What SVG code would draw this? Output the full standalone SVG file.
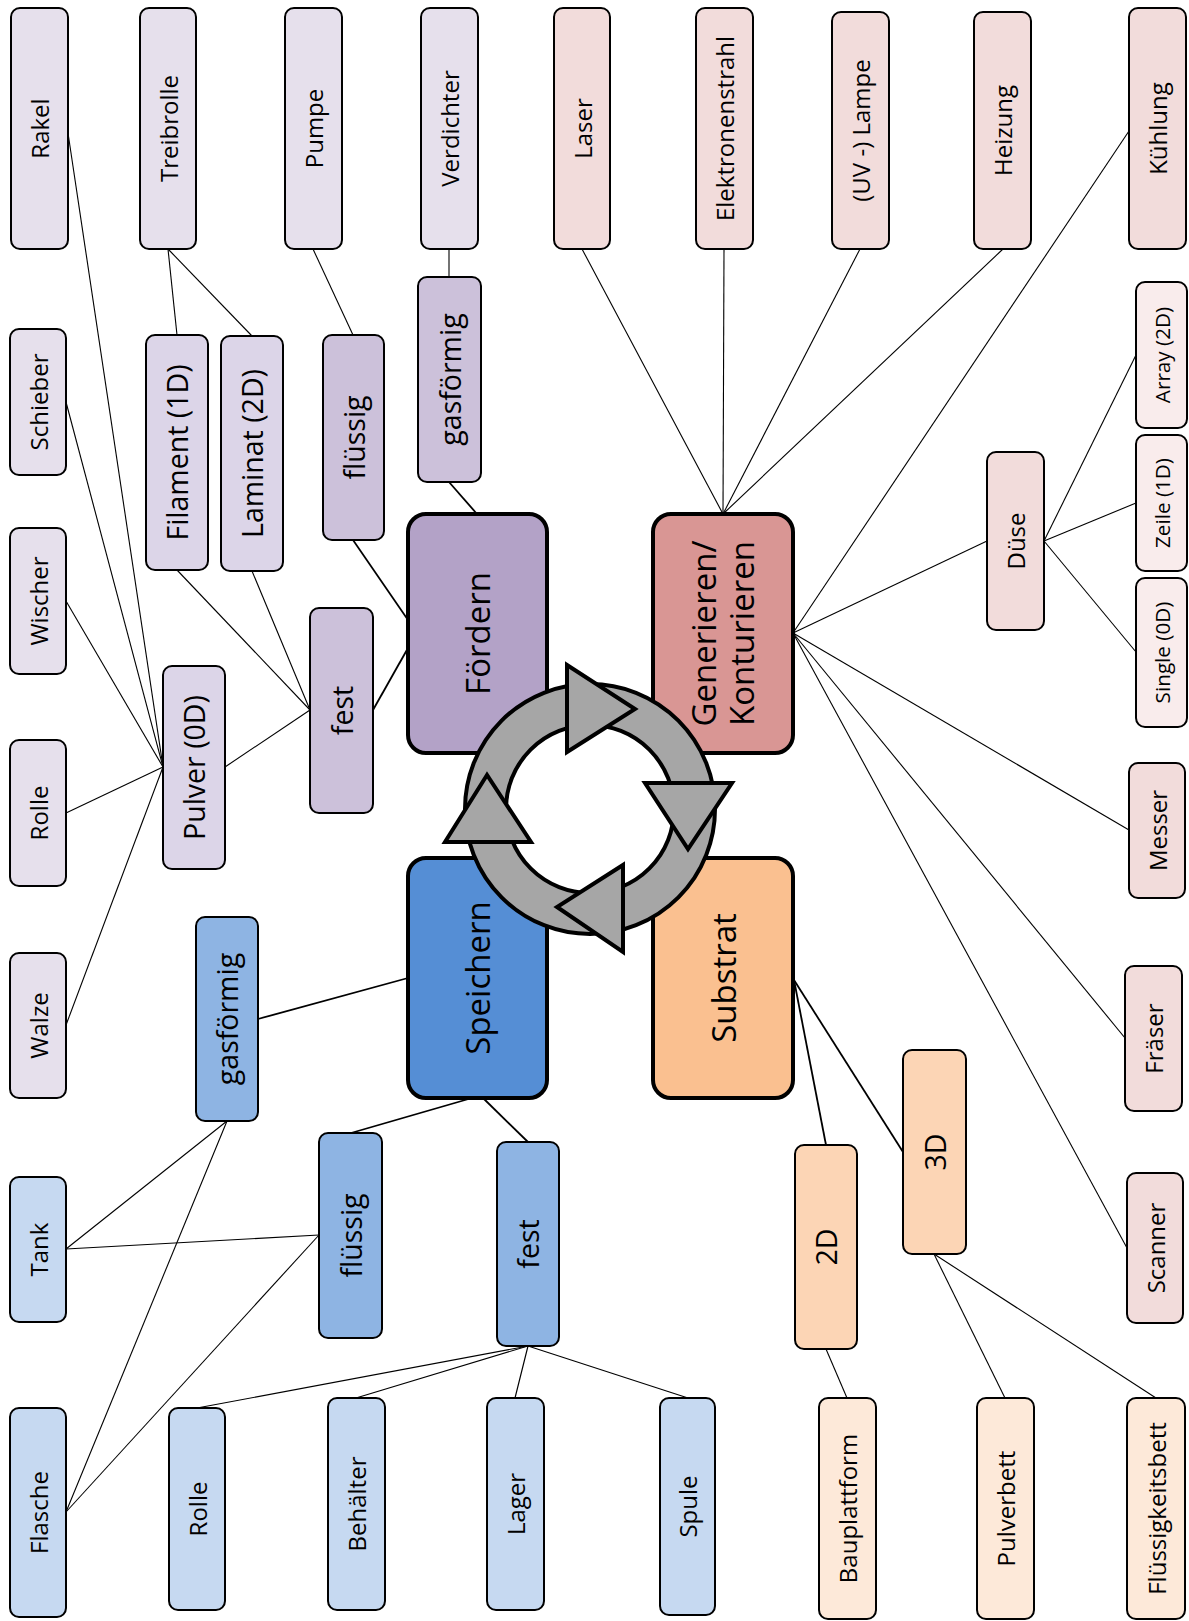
<svg xmlns="http://www.w3.org/2000/svg" width="1189" height="1621" viewBox="0 0 1189 1621">
<style>
rect{stroke:#000;stroke-width:2}
.c{stroke-width:4}
text{font-family:"Open Sans","DejaVu Sans",sans-serif;fill:#000;text-anchor:middle;dominant-baseline:central}
.s0{font-size:20.7px}.s1{font-size:24px}.s2{font-size:28.5px}.s3{font-size:33px}
.pL{fill:#e6e0ec}.pM{fill:#dcd5e8}.pD{fill:#ccc1da}.pC{fill:#b3a2c7}
.rL{fill:#f2dcdb}.rX{fill:#f9ecec}.rC{fill:#d99694}
.bL{fill:#c6d9f1}.bM{fill:#8eb4e3}.bC{fill:#558ed5}
.oL{fill:#fde9d9}.oM{fill:#fcd5b5}.oC{fill:#fac090}
#connectors line{stroke:#000;stroke-width:1.1}
#connectors line.k{stroke-width:1.8}
.cyc{fill:#a6a6a6;stroke:#000;stroke-width:4}
.hole{fill:#fff;stroke:#000;stroke-width:4}
</style>
<rect x="0" y="0" width="1189" height="1621" fill="#fff" style="stroke:none"/>
<g id="connectors">
<line x1="68" y1="133" x2="163" y2="767"/>
<line x1="66" y1="402" x2="163" y2="767"/>
<line x1="66" y1="601" x2="163" y2="767"/>
<line x1="66" y1="813" x2="163" y2="767"/>
<line x1="66" y1="1025" x2="163" y2="767"/>
<line x1="225" y1="767" x2="310" y2="710"/>
<line x1="177" y1="570" x2="310" y2="710"/>
<line x1="252" y1="571" x2="310" y2="710"/>
<line x1="168" y1="249" x2="177" y2="335"/>
<line x1="168" y1="249" x2="252" y2="336"/>
<line x1="313" y1="249" x2="353" y2="335"/>
<line x1="449" y1="249" x2="449" y2="277"/>
<line class="k" x1="373" y1="710" x2="408" y2="648"/>
<line class="k" x1="353" y1="540" x2="408" y2="620"/>
<line class="k" x1="449" y1="482" x2="477" y2="514"/>
<line x1="582" y1="249" x2="723" y2="514"/>
<line x1="724" y1="249" x2="723" y2="514"/>
<line x1="860" y1="249" x2="723" y2="514"/>
<line x1="1003" y1="249" x2="723" y2="514"/>
<line x1="1129" y1="131" x2="793" y2="633"/>
<line x1="987" y1="541" x2="793" y2="633"/>
<line x1="1129" y1="830" x2="793" y2="633"/>
<line x1="1125" y1="1038" x2="793" y2="633"/>
<line x1="1127" y1="1248" x2="793" y2="633"/>
<line x1="1044" y1="541" x2="1136" y2="355"/>
<line x1="1044" y1="541" x2="1136" y2="503"/>
<line x1="1044" y1="541" x2="1136" y2="652"/>
<line class="k" x1="258" y1="1019" x2="408" y2="978"/>
<line class="k" x1="472" y1="1098" x2="351" y2="1133"/>
<line class="k" x1="483" y1="1098" x2="528" y2="1142"/>
<line x1="227" y1="1121" x2="66" y2="1249"/>
<line x1="227" y1="1121" x2="66" y2="1512"/>
<line x1="319" y1="1235" x2="66" y2="1249"/>
<line x1="319" y1="1235" x2="66" y2="1512"/>
<line x1="528" y1="1346" x2="197" y2="1408"/>
<line x1="528" y1="1346" x2="356" y2="1398"/>
<line x1="528" y1="1346" x2="515" y2="1398"/>
<line x1="528" y1="1346" x2="688" y2="1398"/>
<line class="k" x1="794" y1="980" x2="826" y2="1145"/>
<line class="k" x1="794" y1="980" x2="903" y2="1152"/>
<line x1="826" y1="1349" x2="847" y2="1398"/>
<line x1="934" y1="1254" x2="1005" y2="1398"/>
<line x1="934" y1="1254" x2="1156" y2="1398"/>
</g>
<g id="rakel"><rect class="pL" x="11" y="8" width="57" height="241" rx="9"/><text class="s1" transform="translate(39.5,128.5) rotate(-90)">Rakel</text></g>
<g id="treibrolle"><rect class="pL" x="140" y="8" width="56" height="241" rx="9"/><text class="s1" transform="translate(168,128.5) rotate(-90)">Treibrolle</text></g>
<g id="pumpe"><rect class="pL" x="285" y="8" width="57" height="241" rx="9"/><text class="s1" transform="translate(313.5,128.5) rotate(-90)">Pumpe</text></g>
<g id="verdichter"><rect class="pL" x="421" y="8" width="57" height="241" rx="9"/><text class="s1" transform="translate(449.5,128.5) rotate(-90)">Verdichter</text></g>
<g id="schieber"><rect class="pL" x="10" y="329" width="56" height="146" rx="9"/><text class="s1" transform="translate(38,402) rotate(-90)">Schieber</text></g>
<g id="wischer"><rect class="pL" x="10" y="528" width="56" height="146" rx="9"/><text class="s1" transform="translate(38,601) rotate(-90)">Wischer</text></g>
<g id="rolle1"><rect class="pL" x="10" y="740" width="56" height="146" rx="9"/><text class="s1" transform="translate(38,813) rotate(-90)">Rolle</text></g>
<g id="walze"><rect class="pL" x="10" y="953" width="56" height="145" rx="9"/><text class="s1" transform="translate(38,1025.5) rotate(-90)">Walze</text></g>
<g id="filament"><rect class="pM" x="146" y="335" width="62" height="235" rx="9"/><text class="s2" transform="translate(177,452.5) rotate(-90)">Filament (1D)</text></g>
<g id="laminat"><rect class="pM" x="221" y="336" width="62" height="235" rx="9"/><text class="s2" transform="translate(252,453.5) rotate(-90)">Laminat (2D)</text></g>
<g id="pulver"><rect class="pM" x="163" y="666" width="62" height="203" rx="9"/><text class="s2" transform="translate(194,767.5) rotate(-90)">Pulver (0D)</text></g>
<g id="fluessig-f"><rect class="pD" x="323" y="335" width="61" height="205" rx="9"/><text class="s2" transform="translate(353.5,437.5) rotate(-90)">flüssig</text></g>
<g id="gas-f"><rect class="pD" x="418" y="277" width="63" height="205" rx="9"/><text class="s2" transform="translate(449.5,379.5) rotate(-90)">gasförmig</text></g>
<g id="fest-f"><rect class="pD" x="310" y="608" width="63" height="205" rx="9"/><text class="s2" transform="translate(341.5,710.5) rotate(-90)">fest</text></g>
<g id="foerdern"><rect class="pC c" x="408" y="514" width="139" height="239" rx="18"/><text class="s3" transform="translate(477.5,633.5) rotate(-90)">Fördern</text></g>
<g id="laser"><rect class="rL" x="554" y="8" width="56" height="241" rx="9"/><text class="s1" transform="translate(582,128.5) rotate(-90)">Laser</text></g>
<g id="elektronenstrahl"><rect class="rL" x="696" y="8" width="57" height="241" rx="9"/><text class="s1" transform="translate(724.5,128.5) rotate(-90)">Elektronenstrahl</text></g>
<g id="uvlampe"><rect class="rL" x="832" y="12" width="57" height="237" rx="9"/><text class="s1" transform="translate(860.5,130.5) rotate(-90)">(UV -) Lampe</text></g>
<g id="heizung"><rect class="rL" x="974" y="12" width="57" height="237" rx="9"/><text class="s1" transform="translate(1002.5,130.5) rotate(-90)">Heizung</text></g>
<g id="kuehlung"><rect class="rL" x="1129" y="8" width="57" height="241" rx="9"/><text class="s1" transform="translate(1157.5,128.5) rotate(-90)">Kühlung</text></g>
<g id="duese"><rect class="rL" x="987" y="452" width="57" height="178" rx="9"/><text class="s1" transform="translate(1015.5,541) rotate(-90)">Düse</text></g>
<g id="array"><rect class="rX" x="1136" y="282" width="51" height="146" rx="9"/><text class="s0" transform="translate(1161.5,355) rotate(-90)">Array (2D)</text></g>
<g id="zeile"><rect class="rX" x="1136" y="435" width="51" height="136" rx="9"/><text class="s0" transform="translate(1161.5,503) rotate(-90)">Zeile (1D)</text></g>
<g id="single"><rect class="rX" x="1136" y="578" width="51" height="149" rx="9"/><text class="s0" transform="translate(1161.5,652.5) rotate(-90)">Single (0D)</text></g>
<g id="messer"><rect class="rL" x="1129" y="763" width="56" height="135" rx="9"/><text class="s1" transform="translate(1157,830.5) rotate(-90)">Messer</text></g>
<g id="fraeser"><rect class="rL" x="1125" y="966" width="57" height="145" rx="9"/><text class="s1" transform="translate(1153.5,1038.5) rotate(-90)">Fräser</text></g>
<g id="scanner"><rect class="rL" x="1127" y="1173" width="56" height="150" rx="9"/><text class="s1" transform="translate(1155,1248) rotate(-90)">Scanner</text></g>
<g id="generieren"><rect class="rC c" x="653" y="514" width="140" height="239" rx="18"/><text class="s3" transform="translate(722,633.5) rotate(-90)"><tspan x="0" dy="-19">Generieren/</tspan><tspan x="0" dy="38">Konturieren</tspan></text></g>
<g id="speichern"><rect class="bC c" x="408" y="858" width="139" height="240" rx="18"/><text class="s3" transform="translate(477.5,978) rotate(-90)">Speichern</text></g>
<g id="gas-s"><rect class="bM" x="196" y="917" width="62" height="204" rx="9"/><text class="s2" transform="translate(227,1019) rotate(-90)">gasförmig</text></g>
<g id="fluessig-s"><rect class="bM" x="319" y="1133" width="63" height="205" rx="9"/><text class="s2" transform="translate(350.5,1235.5) rotate(-90)">flüssig</text></g>
<g id="fest-s"><rect class="bM" x="497" y="1142" width="62" height="204" rx="9"/><text class="s2" transform="translate(528,1244) rotate(-90)">fest</text></g>
<g id="tank"><rect class="bL" x="10" y="1177" width="56" height="145" rx="9"/><text class="s1" transform="translate(38,1249.5) rotate(-90)">Tank</text></g>
<g id="flasche"><rect class="bL" x="10" y="1408" width="56" height="209" rx="9"/><text class="s1" transform="translate(38,1512.5) rotate(-90)">Flasche</text></g>
<g id="rolle2"><rect class="bL" x="169" y="1408" width="56" height="202" rx="9"/><text class="s1" transform="translate(197,1509) rotate(-90)">Rolle</text></g>
<g id="behaelter"><rect class="bL" x="328" y="1398" width="57" height="212" rx="9"/><text class="s1" transform="translate(356.5,1504) rotate(-90)">Behälter</text></g>
<g id="lager"><rect class="bL" x="487" y="1398" width="57" height="212" rx="9"/><text class="s1" transform="translate(515.5,1504) rotate(-90)">Lager</text></g>
<g id="spule"><rect class="bL" x="660" y="1398" width="55" height="217" rx="9"/><text class="s1" transform="translate(687.5,1506.5) rotate(-90)">Spule</text></g>
<g id="substrat"><rect class="oC c" x="653" y="858" width="140" height="240" rx="18"/><text class="s3" transform="translate(723,978) rotate(-90)">Substrat</text></g>
<g id="d2"><rect class="oM" x="795" y="1145" width="62" height="204" rx="9"/><text class="s2" transform="translate(826,1247) rotate(-90)">2D</text></g>
<g id="d3"><rect class="oM" x="903" y="1050" width="63" height="204" rx="9"/><text class="s2" transform="translate(934.5,1152) rotate(-90)">3D</text></g>
<g id="bauplattform"><rect class="oL" x="819" y="1398" width="57" height="221" rx="9"/><text class="s1" transform="translate(847.5,1508.5) rotate(-90)">Bauplattform</text></g>
<g id="pulverbett"><rect class="oL" x="977" y="1398" width="57" height="221" rx="9"/><text class="s1" transform="translate(1005.5,1508.5) rotate(-90)">Pulverbett</text></g>
<g id="fluessigkeitsbett"><rect class="oL" x="1127" y="1398" width="58" height="221" rx="9"/><text class="s1" transform="translate(1156,1508.5) rotate(-90)">Flüssigkeitsbett</text></g>
<g id="cycle">
<circle class="cyc" cx="590" cy="809" r="125"/>
<circle class="hole" cx="590" cy="809" r="84"/>
<polygon class="cyc" points="567,665 635,709 567,752"/>
<polygon class="cyc" points="645,783 732,783 688,849"/>
<polygon class="cyc" points="623,865 623,952 557,907"/>
<polygon class="cyc" points="487,775 445,842 531,842"/>
</g>
</svg>
